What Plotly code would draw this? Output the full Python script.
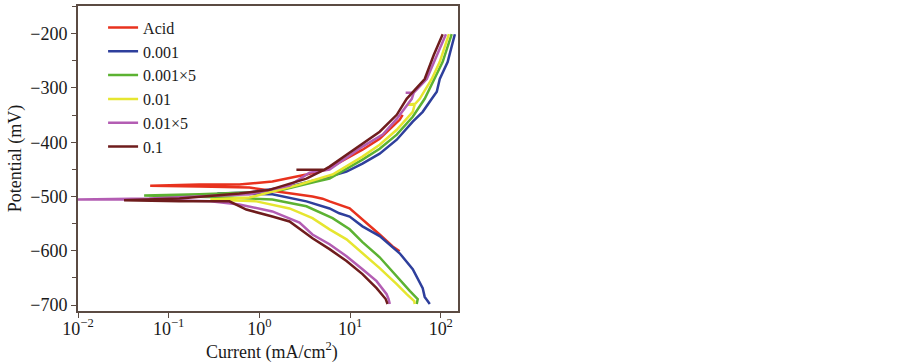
import plotly.graph_objects as go

# ---- data: current (mA/cm2) and potential (mV), traced from cathodic end to anodic end ----
acid_i = [35.2, 29.5, 21.2, 13.7, 9.89, 5.94, 4.97, 3.85, 2.15, 1.66, 0.776, 0.217, 0.0625,
          0.217, 0.601, 1.39, 3.30, 5.50, 13.7, 21.2, 35.2, 38.0]
acid_e = [-601, -592, -570, -542, -522, -509, -504, -500, -494.5, -491, -483.5, -481.6, -480,
          -478, -478, -472.5, -459.6, -450.5, -413.8, -393.6, -358.7, -349.5]

c0001_i = [75.7, 66.5, 63.2, 49.1, 35.2, 21.2, 13.7, 9.89, 7.6, 5.94, 3.30, 1.39, 0.344,
           0.776, 2.15, 4.97, 9.14, 13.7, 21.2, 32.7, 49.1, 63.2, 79.6, 90.4, 97.5, 119, 143]
c0001_e = [-698, -685, -669, -634, -604.6, -573, -555, -537, -531, -522, -509, -496, -494.5,
           -492.7, -481.6, -467, -454, -439.5, -421, -395.4, -362, -344, -320, -307, -283.5, -252.3, -201]

c0001x5_i = [54.3, 55.7, 45.5, 32.7, 21.2, 13.7, 9.89, 6.41, 3.30, 1.39, 0.467, 0.0536,
             0.217, 0.776, 1.80, 4.27, 5.94, 13.7, 21.2, 32.7, 49.1, 66.5, 85.9, 105, 132]
c0001x5_e = [-698, -689, -674, -647, -612, -584, -560.5, -540, -518, -505.5, -502, -498,
             -496, -492.7, -487.8, -472.5, -467, -432, -412, -386, -353, -320, -283.5, -252, -201]

c001_i = [51.6, 51.0, 42.1, 32.7, 21.2, 13.7, 9.14, 5.94, 3.85, 2.15, 0.927, 0.288,
          0.776, 2.77, 6.41, 13.7, 21.2, 32.7, 49.1, 51.5, 42.5, 52.5, 58.6, 79.6, 97.5, 123]
c001_e = [-698, -692.7, -680, -661.5, -632, -604.6, -579, -560.5, -540, -522, -509, -505.5,
          -502, -478, -459.6, -426.6, -404.6, -377, -344, -331, -331, -329, -320, -283.5, -252, -201]

c001x5_i = [27.4, 26.6, 25.3, 19.6, 13.7, 9.14, 5.94, 3.85, 2.77, 1.39, 0.601, 0.288, 0.061, 0.01,
            0.061, 0.776, 2.15, 3.57, 5.94, 13.7, 22.9, 32.7, 47.9, 50.3, 41.0, 50.3, 70.0, 90.4, 114]
c001x5_e = [-698, -689, -680, -656, -634, -610, -588, -570, -548, -527.5, -514.7, -509, -505.5, -505.5,
            -503.7, -496, -480, -456, -450.5, -408, -386, -357, -320, -309, -309, -309, -283.5, -239.4, -201]

c01_i = [25.9, 24.7, 19.6, 13.7, 9.14, 5.94, 3.85, 2.15, 1.39, 0.718, 0.467, 0.131, 0.0322,
         0.131, 0.601, 1.29, 3.30, 5.22, 2.56, 5.22, 5.94, 13.7, 21.2, 32.7, 42.1, 66.5, 83.7, 105]
c01_e = [-698, -689, -669, -643, -619, -597, -577, -546, -537, -524, -509, -509, -507,
         -503.7, -494.5, -487.8, -467, -450.5, -450.5, -450.5, -445, -402.7, -380.7, -349.5, -320, -283.5, -239.4, -201]

names = ["Acid", "0.001", "0.001×5", "0.01", "0.01×5", "0.1"]
currents = [acid_i, c0001_i, c0001x5_i, c001_i, c001x5_i, c01_i]
potentials = [acid_e, c0001_e, c0001x5_e, c001_e, c001x5_e, c01_e]
colors = ["#e8321e", "#2e3f9c", "#5cb232", "#e6e630", "#b35db3", "#6e1c1c"]

y_ticks = [-200, -300, -400, -500, -600, -700]
y_ticktext = ["−200", "−300", "−400", "−500", "−600", "−700"]
x_ticks = [0.01, 0.1, 1, 10, 100]
x_ticktext = ["10<sup>−2</sup>", "10<sup>−1</sup>", "10<sup>0</sup>", "10<sup>1</sup>", "10<sup>2</sup>"]

fig = go.Figure()
for n, xi, ye, c in zip(names, currents, potentials, colors):
    fig.add_trace(go.Scatter(x=xi, y=ye, mode="lines", name=n,
                             line=dict(color=c, width=2.5), cliponaxis=True))

axis_color = "#5b4b43"
font_family = "Liberation Serif, Times New Roman, serif"
text_color = "#1a1a1a"

fig.update_layout(
    width=903, height=362,
    margin=dict(l=78, r=445, t=4, b=51),
    paper_bgcolor="white", plot_bgcolor="white",
    font=dict(family=font_family, size=18, color=text_color),
    showlegend=True,
    legend=dict(x=0.066, y=0.985, xanchor="left", yanchor="top",
                bgcolor="rgba(0,0,0,0)", font=dict(family=font_family, size=16, color=text_color),
                tracegroupgap=0, itemwidth=30),
    xaxis=dict(type="log", range=[-2, 2.19], tickvals=x_ticks, ticktext=x_ticktext,
               showline=True, mirror=True, linecolor=axis_color, linewidth=2,
               ticks="outside", ticklen=5, tickcolor=axis_color, showgrid=False, zeroline=False,
               ticklabelstandoff=-5, tickfont=dict(size=18)),
    yaxis=dict(range=[-711, -149], tickvals=y_ticks, ticktext=y_ticktext,
               showline=True, mirror=True, linecolor=axis_color, linewidth=2,
               ticks="outside", ticklen=5, tickcolor=axis_color, showgrid=False, zeroline=False,
               minor=dict(ticks="outside", ticklen=4, tickcolor=axis_color, dtick=50, showgrid=False),
               title=dict(text="Potential (mV)", standoff=4, font=dict(size=18)),
               tickfont=dict(size=18)),
    annotations=[dict(text="Current (mA/cm<sup>2</sup>)", xref="paper", yref="paper",
                      x=0.51, y=-0.13, xanchor="center", yanchor="middle",
                      showarrow=False, font=dict(size=18, family=font_family, color=text_color))],
)

fig.write_html("out.html", config={"displayModeBar": False},
               post_script="document.body.style.margin='0';document.body.style.padding='0';")
